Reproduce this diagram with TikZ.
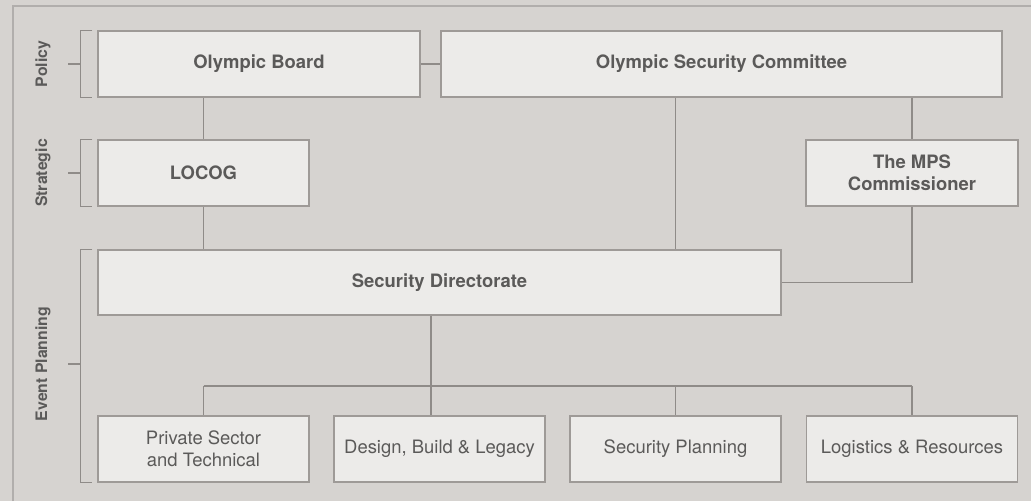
\documentclass[tikz,border=0pt]{standalone}
\usepackage{fontspec}
\setmainfont{TeX Gyre Heros}

\definecolor{pagegray}{HTML}{D6D3D0}
\definecolor{boxfill}{HTML}{ECEBE9}
\definecolor{boxline}{HTML}{9E9A97}
\definecolor{wire}{HTML}{8F8B88}
\definecolor{inkgray}{HTML}{5B5A59}

\tikzset{
  unit/.style={draw=boxline, line width=0.8pt, fill=boxfill, text=inkgray,
    minimum height=1.32cm, inner sep=0pt, align=center,
    font=\fontsize{10.5}{12.5}\selectfont},
  headunit/.style={unit, font=\fontsize{10.5}{12.5}\selectfont\bfseries},
  tier/.style={text=inkgray, rotate=90, font=\fontsize{9}{10}\selectfont\bfseries},
  link/.style={draw=wire, line width=0.7pt},
}

\begin{document}
\begin{tikzpicture}[x=0.02cm,y=-0.02cm]

      \fill[pagegray] (0,0) rectangle (1031,501);
      \useasboundingbox (0,0) rectangle (1031,501);
      \draw[boxline!80, line width=0.8pt] (13,501) -- (13,6) -- (1031,6);

      % top levels
      \node[headunit, minimum width=6.44cm]  (board)  at (259,64)    {Olympic Board};
      \node[headunit, minimum width=11.22cm] (osc)    at (721.5,64)  {Olympic Security Committee};
      \node[headunit, minimum width=4.22cm]  (locog)  at (203.5,173) {LOCOG};
      \node[headunit, minimum width=4.24cm]  (mps)    at (912,173)   {The MPS\\Commissioner};
      \node[headunit, minimum width=13.66cm, minimum height=1.3cm] (secdir) at (439.5,282.5) {Security Directorate};

      % event planning units
      \begin{scope}[every node/.style={unit, minimum width=4.22cm}]
        \node (private)  at (203.5,449) {Private Sector\\and Technical};
        \node (design)   at (439.5,449) {Design, Build \& Legacy};
        \node (planning) at (675.5,449) {Security Planning};
        \node (logistic) at (912,449)   {Logistics \& Resources};
      \end{scope}

      \coordinate (split) at (431,386);

      \begin{scope}[every path/.style={link}]
        \path (board) edge (osc);
        \path (board.south -| locog) edge (locog.north);
        \path (locog.south) edge (secdir.north -| locog);
        \path (osc.south -| planning) edge (secdir.north -| planning);
        \path (osc.south -| mps) edge (mps.north);
        \draw[link] (mps.south) |- (secdir.east);
        \path (secdir.south -| split) edge (split);
        \path (split -| private) edge (split -| logistic);
        \path (split -| private) edge (private.north);
        \path (split) edge (design.north -| split);
        \path (split -| planning) edge (planning.north);
        \path (split -| logistic) edge (logistic.north);
      \end{scope}

      % tier brackets
      \begin{scope}[every path/.style={link}]
        \draw (board.north west) ++(-5,0) -- ++(-12,0) |- ([xshift=-0.1cm]board.south west);
        \draw (68,64) -- (81,64);
        \draw (locog.north west) ++(-5,0) -- ++(-12,0) |- ([xshift=-0.1cm]locog.south west);
        \draw (68,173) -- (81,173);
        \draw (secdir.north west) ++(-5,0) -- ++(-12,0) |- ([xshift=-0.1cm]private.south west);
        \draw (68,364) -- (81,364);
      \end{scope}

      \node[tier] (policy)    at (43,64)  {Policy};
      \node[tier] (strategic) at (43,173) {Strategic};
      \node[tier] (event)     at (43,364) {Event Planning};

    \end{tikzpicture}
\end{document}
